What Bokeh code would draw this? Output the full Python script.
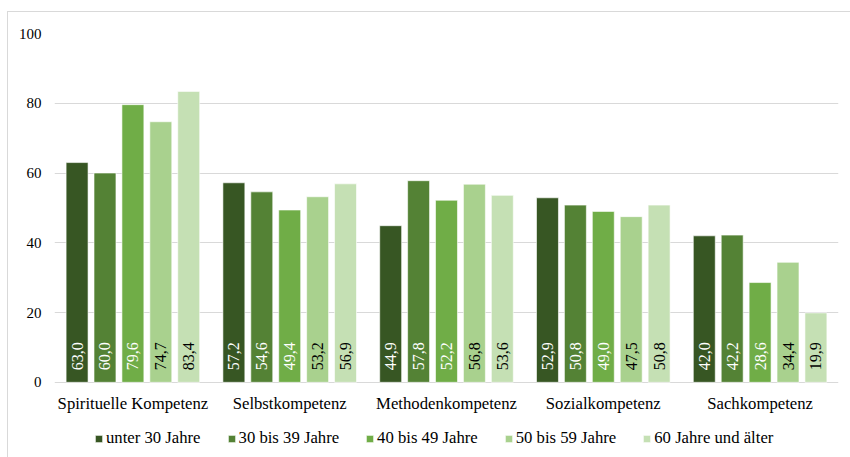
import math
from bokeh.plotting import figure
from bokeh.models import ColumnDataSource, Range1d, FixedTicker, Legend, LegendItem
from bokeh.core.properties import value
from bokeh.embed import file_html
from bokeh.resources import INLINE

# Kompetenzbereiche (x-Kategorien)
categories = ["Spirituelle Kompetenz", "Selbstkompetenz", "Methodenkompetenz",
              "Sozialkompetenz", "Sachkompetenz"]

# Altersgruppen (Serien)
series = ["unter 30 Jahre", "30 bis 39 Jahre", "40 bis 49 Jahre",
          "50 bis 59 Jahre", "60 Jahre und älter"]

unter_30 = [63.0, 57.2, 44.9, 52.9, 42.0]
j30_39 = [60.0, 54.6, 57.8, 50.8, 42.2]
j40_49 = [79.6, 49.4, 52.2, 49.0, 28.6]
j50_59 = [74.7, 53.2, 56.8, 47.5, 34.4]
ab_60 = [83.4, 56.9, 53.6, 50.8, 19.9]

y_ticks = [0, 20, 40, 60, 80, 100]

values = [unter_30, j30_39, j40_49, j50_59, ab_60]
colors = ["#375623", "#548235", "#70AD47", "#A9D18E", "#C5E0B4"]
label_colors = ["white", "white", "white", "black", "black"]

FONT = "Liberation Serif"

# Der Plotbereich reicht unter die Nulllinie, damit Kategorienamen und
# Legende darin Platz finden.
p = figure(width=843, height=446, output_backend="svg", toolbar_location=None,
           x_range=Range1d(0, 5), y_range=Range1d(-21.84, 100),
           min_border_left=46, min_border_right=13, min_border_top=21,
           min_border_bottom=0, margin=(11, 0, 0, 7),
           stylesheets=[":host { border-top: 1px solid #d9d9d9; "
                        "border-left: 1px solid #d9d9d9; }"])
p.outline_line_color = None
p.background_fill_color = "white"
p.border_fill_color = "white"

# Gitterlinien
p.xgrid.grid_line_color = None
p.ygrid.grid_line_color = "#d9d9d9"
p.ygrid.grid_line_width = 1
p.ygrid.ticker = FixedTicker(ticks=y_ticks)

# y-Achse
p.yaxis.ticker = FixedTicker(ticks=y_ticks)
p.yaxis.axis_line_color = None
p.yaxis.major_tick_line_color = None
p.yaxis.minor_tick_line_color = None
p.yaxis.major_label_standoff = 7
p.yaxis.major_label_text_font = FONT
p.yaxis.major_label_text_font_size = "15px"
p.yaxis.major_label_text_color = "black"

p.xaxis.visible = False

# Kategorienamen unter jeder Balkengruppe
centers = [i + 0.5 for i in range(len(categories))]
cat_src = ColumnDataSource(dict(x=centers, y=[0] * len(centers), name=categories))
p.text(x="x", y="y", text="name", source=cat_src, text_align="center",
       text_baseline="top", y_offset=12, text_font=value(FONT),
       text_font_size="16.7px", text_color="black")

pitch = 0.178
bar_w = 0.14
items = []
for j, (name, vals) in enumerate(zip(series, values)):
    xs = [c + (j - 2) * pitch for c in centers]
    src = ColumnDataSource(dict(
        x=xs, top=vals,
        label=[f"{v:.1f}".replace(".", ",") for v in vals],
        zero=[0] * len(vals),
    ))
    r = p.vbar(x="x", top="top", width=bar_w, source=src,
               fill_color=colors[j], line_color="white", line_width=0.6)
    p.text(x="x", y="zero", text="label", source=src, angle=math.pi / 2,
           text_align="left", text_baseline="middle", y_offset=-12,
           text_font=value(FONT), text_font_size="16px",
           text_color=label_colors[j])
    items.append(LegendItem(label=name, renderers=[r]))

# Legende am unteren Rand
legend = Legend(items=items, orientation="horizontal", location=(40, 10),
                glyph_width=9, glyph_height=9, label_standoff=3, spacing=26,
                padding=0, margin=0, border_line_color=None,
                label_text_font=FONT, label_text_font_size="16.7px",
                label_text_color="black", background_fill_alpha=0)
p.add_layout(legend, "center")

open("out.html", "w").write(file_html(p, INLINE))
